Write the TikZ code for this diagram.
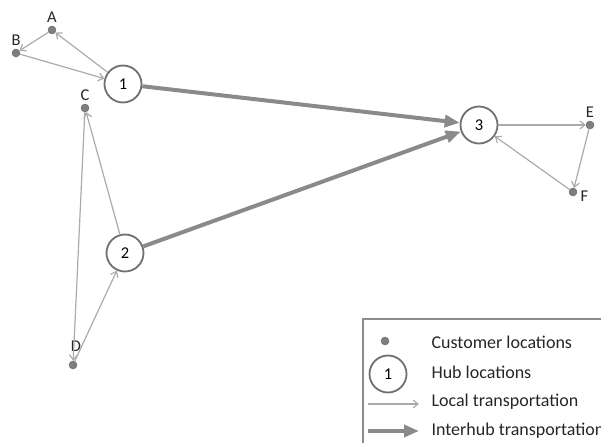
\documentclass[tikz,border=0pt]{standalone}
\usepackage{fontspec}
\setmainfont{Carlito}
\usetikzlibrary{arrows.meta, positioning}

\definecolor{hubgray}{HTML}{707070}
\definecolor{dotgray}{HTML}{7E7E7E}
\definecolor{localgray}{HTML}{ABABAB}
\definecolor{intergray}{HTML}{8A8A8A}

\begin{document}
\begin{tikzpicture}[
    x=1pt, y=-1pt,
    cust/.style  = {circle, fill=dotgray, draw=dotgray!80!black, line width=0.4pt,
                    minimum size=8pt, inner sep=0pt,
                    label distance=1pt},
    hub/.style   = {circle, draw=hubgray, line width=1.8pt, fill=white,
                    minimum size=37pt, inner sep=0pt, font=\fontsize{16.5}{18}\selectfont},
    lbl/.style   = {font=\fontsize{16.5}{18}\selectfont, text=black!85},
    loc/.style   = {-{Straight Barb[length=5pt, width=8pt]}, line width=1.2pt, localgray},
    inter/.style = {-{Triangle[length=15pt, width=12pt]}, line width=4pt, intergray},
    legtxt/.style = {font=\fontsize{18}{20}\selectfont, anchor=west, text=black!85},
]
\useasboundingbox (0,0) rectangle (601,443);
\clip (0,0) rectangle (601,443);

%% ---- Customer locations ----
\node[cust, label={[lbl]above:A}] (A) at (52,30) {};
\node[cust, label={[lbl]above:B}] (B) at (16,53) {};
\node[cust, label={[lbl]above:C}] (C) at (85,108) {};
\node[cust, label={[lbl, xshift=3pt, label distance=6pt]above:D}] (D) at (73,365) {};
\node[cust, label={[lbl]above:E}] (E) at (590,125) {};
\node[cust, label={[lbl, yshift=-4pt]right:F}] (F) at (573,192) {};

%% ---- Hub locations ----
\node[hub] (h1) at (123,84)  {1};
\node[hub] (h2) at (125,253) {2};
\node[hub] (h3) at (479,125) {3};

%% ---- Local transportation ----
\draw[loc] (h1) -- (A);
\draw[loc] (A)  -- (B);
\draw[loc] (B)  -- (h1);
\draw[loc] (h2) -- (C);
\draw[loc] (C)  -- (D);
\draw[loc] (D)  -- (h2);
\draw[loc] (h3) -- (E);
\draw[loc] (E)  -- (F);
\draw[loc] (F)  -- (h3);

%% ---- Interhub transportation ----
\draw[inter] (h1) -- (h3);
\draw[inter] (h2) -- (h3);

%% ---- Legend ----
\draw[draw=gray!90, line width=1.5pt] (363,319) rectangle (700,500);
\node[cust] (lgdot) at (385,341) {};
\node[hub]  (lghub) at (388,374) {1};
\coordinate (lgloca) at (368,404);
\coordinate (lglocb) at (419,404);
\coordinate (lginta) at (368,431);
\coordinate (lgintb) at (419,431);
\draw[loc]   (lgloca) -- (lglocb);
\draw[inter] (lginta) -- (lgintb);
\node[legtxt] (lgt1) at (428,342) {Customer locations};
\node[legtxt] (lgt2) at (428,372) {Hub locations};
\node[legtxt] (lgt3) at (428,402) {Local transportation};
\node[legtxt] (lgt4) at (428,431) {Interhub transportation};

\end{tikzpicture}
\end{document}
